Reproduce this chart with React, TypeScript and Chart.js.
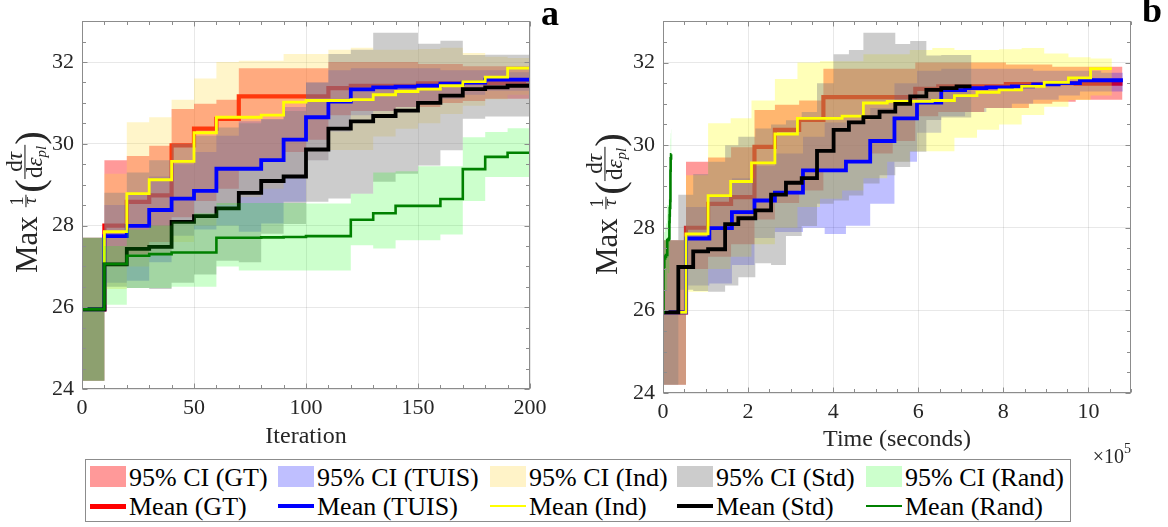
import React, { useEffect, useRef } from "react";
import { Chart, registerables } from "chart.js";

Chart.register(...registerables);

const SERIF = "'Liberation Serif', 'Times New Roman', serif";
const TEXT = "#262626";

// ---------- Panel a: iteration breakpoints (each value holds until the next breakpoint)
const iterations = [0, 10, 20, 30, 40, 50, 60, 70, 80, 90, 100, 110, 120, 130, 140, 150, 160, 170, 180, 190, 200];

// ---------- Panel b: time breakpoints (units of 10^5 seconds)
const timeGT = [0, 0.54, 1.06, 1.6, 2.15, 2.63, 3.2, 3.77, 4.3, 4.85, 5.4, 5.93, 6.47, 7.0, 7.55, 8.06, 8.6, 9.15, 9.7, 10.25, 10.8];
const timeTUIS = [0, 0.54, 1.09, 1.62, 2.15, 2.63, 3.29, 3.8, 4.3, 4.87, 5.44, 5.97, 6.54, 7.1, 7.6, 8.2, 8.7, 9.3, 9.8, 10.3, 10.81];
const timeInd = [0, 0.54, 1.06, 1.59, 2.08, 2.63, 3.16, 3.69, 4.21, 4.71, 5.27, 5.8, 6.33, 6.85, 7.38, 7.9, 8.43, 8.96, 9.53, 10.05, 10.55];
const timeStd = [0, 0.36, 0.71, 1.06, 1.46, 1.77, 2.17, 2.54, 2.89, 3.26, 3.62, 4.01, 4.37, 4.71, 5.09, 5.46, 5.81, 6.19, 6.54, 6.9, 7.25];
const timeRand = [0, 0.012, 0.03, 0.05, 0.07, 0.09, 0.1, 0.11, 0.12, 0.13, 0.14, 0.145, 0.15, 0.155, 0.16, 0.165, 0.17, 0.175, 0.18, 0.19, 0.2];

// ---------- Mean and 95% CI (one value per step interval)
const meanGT = [25.95, 28.0, 28.58, 28.74, 29.96, 30.37, 30.61, 31.16, 31.16, 31.16, 31.16, 31.36, 31.42, 31.42, 31.42, 31.48, 31.48, 31.5, 31.49, 31.49];
const loGT = [24.2, 27.0, 27.3, 27.6, 28.2, 28.6, 28.9, 29.4, 29.6, 29.8, 30.1, 30.7, 30.8, 30.8, 30.9, 30.9, 31.0, 31.05, 31.1, 31.1];
const hiGT = [27.7, 29.6, 29.7, 29.95, 30.85, 30.98, 31.08, 31.85, 31.85, 31.85, 31.85, 32.0, 32.0, 32.0, 32.0, 31.95, 31.95, 31.9, 31.9, 31.9];

const meanTUIS = [25.95, 27.74, 27.99, 28.38, 28.66, 28.85, 29.39, 29.39, 29.6, 30.1, 30.65, 31.03, 31.33, 31.38, 31.4, 31.42, 31.47, 31.5, 31.57, 31.57];
const loTUIS = [24.2, 26.6, 26.65, 27.1, 27.75, 27.9, 28.0, 27.85, 28.05, 28.58, 29.6, 30.3, 30.7, 30.8, 30.9, 31.0, 31.1, 31.2, 31.3, 31.3];
const hiTUIS = [27.7, 28.5, 28.8, 29.2, 29.5, 29.8, 30.2, 30.55, 30.6, 30.9, 31.5, 31.8, 31.85, 31.85, 31.85, 31.85, 31.8, 31.8, 31.8, 31.75];

const meanInd = [25.95, 27.85, 28.78, 29.12, 29.57, 30.27, 30.65, 30.65, 30.7, 31.02, 31.06, 31.06, 31.08, 31.2, 31.28, 31.34, 31.42, 31.52, 31.63, 31.85];
const loInd = [24.2, 26.45, 27.0, 27.3, 27.6, 28.0, 28.5, 28.7, 28.9, 29.2, 29.6, 29.85, 29.85, 30.18, 30.37, 30.5, 30.73, 30.93, 31.09, 31.2];
const hiInd = [27.7, 29.27, 30.53, 30.65, 31.08, 31.6, 32.0, 32.03, 32.03, 32.2, 32.2, 32.3, 32.35, 32.3, 32.3, 32.32, 32.35, 32.22, 32.13, 32.1];

const meanStd = [25.95, 27.05, 27.43, 27.48, 28.09, 28.23, 28.42, 28.8, 29.09, 29.2, 29.86, 30.37, 30.55, 30.68, 30.81, 31.0, 31.18, 31.34, 31.38, 31.42];
const loStd = [24.2, 26.5, 26.47, 26.45, 26.6, 26.8, 27.14, 27.1, 27.8, 28.04, 28.58, 28.66, 28.78, 29.07, 29.27, 29.47, 29.84, 30.61, 30.67, 30.67];
const hiStd = [27.7, 28.8, 29.3, 29.6, 30.0, 30.2, 30.4, 30.5, 30.6, 30.8, 31.5, 32.2, 32.3, 32.72, 32.72, 32.45, 32.52, 32.17, 32.18, 32.18];

const meanRand = [25.95, 27.06, 27.26, 27.3, 27.34, 27.34, 27.7, 27.7, 27.71, 27.72, 27.74, 27.74, 28.14, 28.3, 28.48, 28.48, 28.65, 29.38, 29.68, 29.78];
const loRand = [24.2, 26.06, 26.47, 26.47, 26.5, 26.5, 27.0, 26.9, 26.9, 26.9, 26.9, 26.9, 27.52, 27.44, 27.64, 27.64, 27.78, 28.6, 29.19, 29.19];
const hiRand = [27.7, 27.5, 27.9, 28.0, 28.1, 28.3, 28.55, 28.55, 28.55, 28.55, 28.54, 28.54, 28.78, 29.3, 29.33, 29.45, 29.45, 30.16, 30.29, 30.38];

// ---------- Axis ticks / labels
const xTicksA = [0, 50, 100, 150, 200];
const xTicksB = [0, 2, 4, 6, 8, 10];
const yTicks = [24, 26, 28, 30, 32];

const bandLabels = ["95% CI (GT)", "95% CI (TUIS)", "95% CI (Ind)", "95% CI (Std)", "95% CI (Rand)"];
const meanLabels = ["Mean (GT)", "Mean (TUIS)", "Mean (Ind)", "Mean (Std)", "Mean (Rand)"];

type Method = {
  line: string;
  width: number;
  bandA: string;
  bandB: string;
  swatch: string;
  legendWidth: number;
  bandOrder: number;
  lineOrder: number;
  mean: number[];
  lo: number[];
  hi: number[];
  time: number[];
};

// draw order: higher "order" is painted first (underneath)
const methods: Method[] = [
  { line: "#ff0000", width: 4.2, bandA: "rgba(255,0,0,0.4)", bandB: "rgba(255,0,0,0.4)", swatch: "#ff9999", legendWidth: 5, bandOrder: 100, lineOrder: 95, mean: meanGT, lo: loGT, hi: hiGT, time: timeGT },
  { line: "#0000ff", width: 3.8, bandA: "rgba(0,0,255,0.25)", bandB: "rgba(0,0,255,0.25)", swatch: "#bfbfff", legendWidth: 4.5, bandOrder: 90, lineOrder: 75, mean: meanTUIS, lo: loTUIS, hi: hiTUIS, time: timeTUIS },
  { line: "#ffff00", width: 2.8, bandA: "rgba(255,215,50,0.26)", bandB: "rgba(255,255,0,0.28)", swatch: "#fff3c8", legendWidth: 2.8, bandOrder: 85, lineOrder: 70, mean: meanInd, lo: loInd, hi: hiInd, time: timeInd },
  { line: "#000000", width: 3.8, bandA: "rgba(128,128,128,0.4)", bandB: "rgba(128,128,128,0.4)", swatch: "#cccccc", legendWidth: 4.5, bandOrder: 80, lineOrder: 65, mean: meanStd, lo: loStd, hi: hiStd, time: timeStd },
  { line: "#008000", width: 2.6, bandA: "rgba(0,255,0,0.2)", bandB: "rgba(0,255,0,0.2)", swatch: "#ccffcc", legendWidth: 2.4, bandOrder: 60, lineOrder: 55, mean: meanRand, lo: loRand, hi: hiRand, time: timeRand },
];

function buildDatasets(panel: "a" | "b") {
  const ds: any[] = [];
  methods.forEach((m) => {
    const xs = panel === "a" ? iterations : m.time;
    const pts = (vals: number[]) => xs.map((x, i) => ({ x, y: vals[Math.min(i, vals.length - 1)] }));
    const base = ds.length;
    ds.push({ data: pts(m.lo), borderWidth: 0, pointRadius: 0, stepped: true, fill: false, order: m.bandOrder + 1 });
    ds.push({
      data: pts(m.hi),
      borderWidth: 0,
      pointRadius: 0,
      stepped: true,
      fill: { target: base },
      backgroundColor: panel === "a" ? m.bandA : m.bandB,
      order: m.bandOrder,
    });
    ds.push({
      data: pts(m.mean),
      borderColor: m.line,
      borderWidth: m.width,
      pointRadius: 0,
      stepped: true,
      fill: false,
      borderJoinStyle: "miter",
      borderCapStyle: "butt",
      order: m.lineOrder,
    });
  });
  return ds;
}

function drawYTitle(ctx: CanvasRenderingContext2D, bx: number, cy: number) {
  const main = `31px ${SERIF}`;
  const fA = `19px ${SERIF}`;
  const fAi = `italic 19px ${SERIF}`;
  const fB = `23px ${SERIF}`;
  const fBi = `italic 23px ${SERIF}`;
  const sub = `italic 15px ${SERIF}`;
  const paren = `41px ${SERIF}`;
  ctx.save();
  ctx.translate(bx, cy);
  ctx.rotate(-Math.PI / 2);
  ctx.fillStyle = TEXT;
  ctx.textBaseline = "alphabetic";
  ctx.textAlign = "left";
  ctx.font = main;
  const wMax = ctx.measureText("Max").width;
  ctx.font = fA;
  const w1 = ctx.measureText("1").width;
  ctx.font = fAi;
  const wT = ctx.measureText("τ").width;
  const wF1 = Math.max(w1, wT) + 3;
  ctx.font = paren;
  const wP = ctx.measureText("(").width;
  ctx.font = fB;
  const wd = ctx.measureText("d").width;
  ctx.font = fBi;
  const wtau = ctx.measureText("τ").width;
  const weps = ctx.measureText("ε").width;
  ctx.font = sub;
  const wpl = ctx.measureText("pl").width;
  const num2 = wd + wtau;
  const den2 = wd + weps + wpl;
  const wF2 = Math.max(num2, den2) + 2;
  const gap = 9;
  const total = wMax + gap + wF1 + 2 + wP + wF2 + wP;
  let x = -total / 2;
  ctx.font = main;
  ctx.fillText("Max", x, 0);
  x += wMax + gap;
  // fraction 1/τ
  const bar1 = -11;
  ctx.font = fA;
  ctx.fillText("1", x + (wF1 - w1) / 2, bar1 - 3);
  ctx.font = fAi;
  ctx.fillText("τ", x + (wF1 - wT) / 2, bar1 + 10);
  ctx.fillRect(x, bar1 - 0.6, wF1, 1.1);
  x += wF1 + 2;
  ctx.font = paren;
  ctx.fillText("(", x, 6);
  x += wP;
  // fraction dτ / dε_pl
  const bar2 = -12;
  const nx = x + (wF2 - num2) / 2;
  ctx.font = fB;
  ctx.fillText("d", nx, bar2 - 3);
  ctx.font = fBi;
  ctx.fillText("τ", nx + wd, bar2 - 3);
  const dx = x + (wF2 - den2) / 2;
  ctx.font = fB;
  ctx.fillText("d", dx, bar2 + 17);
  ctx.font = fBi;
  ctx.fillText("ε", dx + wd, bar2 + 17);
  ctx.font = sub;
  ctx.fillText("pl", dx + wd + weps, bar2 + 21);
  ctx.fillRect(x, bar2 - 0.6, wF2, 1.1);
  x += wF2;
  ctx.font = paren;
  ctx.fillText(")", x, 6);
  ctx.restore();
}

const framePlugin = {
  id: "frame",
  afterDraw(chart: any, _args: any, opts: any) {
    const { ctx, chartArea } = chart;
    const xs = chart.scales.x;
    const ys = chart.scales.y;
    const L = Math.round(chartArea.left) + 0.5;
    const R = Math.round(chartArea.right) - 0.5;
    const T = Math.round(chartArea.top) + 0.5;
    const B = Math.round(chartArea.bottom) - 0.5;
    ctx.save();
    ctx.strokeStyle = "#8c8c8c";
    ctx.lineWidth = 1;
    ctx.beginPath();
    // minor / major ticks, inward on all four sides
    for (let v = xs.min; v <= xs.max + 1e-9; v += opts.xMinor) {
      const px = Math.round(xs.getPixelForValue(v)) + 0.5;
      const major = Math.abs(v / opts.xMajor - Math.round(v / opts.xMajor)) < 1e-6;
      const len = major ? 5 : 3.5;
      ctx.moveTo(px, B);
      ctx.lineTo(px, B - len);
      ctx.moveTo(px, T);
      ctx.lineTo(px, T + len);
    }
    for (let v = ys.min; v <= ys.max + 1e-9; v += 0.5) {
      const py = Math.round(ys.getPixelForValue(v)) + 0.5;
      const major = Math.abs((v - 24) / 2 - Math.round((v - 24) / 2)) < 1e-6;
      const len = major ? 5 : 3.5;
      ctx.moveTo(L, py);
      ctx.lineTo(L + len, py);
      ctx.moveTo(R, py);
      ctx.lineTo(R - len, py);
    }
    ctx.stroke();
    ctx.strokeRect(L, T, R - L, B - T);
    ctx.restore();

    ctx.save();
    ctx.fillStyle = TEXT;
    ctx.font = `24px ${SERIF}`;
    ctx.textAlign = "center";
    ctx.textBaseline = "alphabetic";
    ctx.fillText(opts.xTitle, (chartArea.left + chartArea.right) / 2, opts.xTitleY);
    drawYTitle(ctx, opts.yTitleX, (chartArea.top + chartArea.bottom) / 2 - 3);
    ctx.fillStyle = "#000";
    ctx.font = `bold 36px ${SERIF}`;
    ctx.textAlign = "left";
    ctx.fillText(opts.letter, opts.letterX, opts.letterY);
    if (opts.exponent) {
      ctx.fillStyle = TEXT;
      ctx.font = `14px ${SERIF}`;
      const w5 = ctx.measureText("5").width;
      ctx.font = `20px ${SERIF}`;
      const w10 = ctx.measureText("×10").width;
      const xr = chartArea.right;
      ctx.fillText("×10", xr - w5 - w10, 463);
      ctx.font = `14px ${SERIF}`;
      ctx.fillText("5", xr - w5, 453);
    }
    ctx.restore();
  },
};

function makeConfig(panel: "a" | "b") {
  const isA = panel === "a";
  const W = isA ? 580 : 588;
  const H = isA ? 460 : 470;
  const plotLeft = isA ? 82 : 83;
  const plotRight = isA ? 530 : 551;
  const plotTop = isA ? 18 : 15;
  const plotBottom = isA ? 389 : 393;
  const xTicks = isA ? xTicksA : xTicksB;
  return {
    type: "line",
    data: { datasets: buildDatasets(panel) },
    options: {
      animation: false,
      responsive: false,
      devicePixelRatio: 1,
      layout: { padding: { left: 0, right: W - plotRight, top: plotTop, bottom: 0 } },
      scales: {
        x: {
          type: "linear",
          min: 0,
          max: isA ? 200 : 11,
          afterBuildTicks: (s: any) => {
            s.ticks = xTicks.map((v) => ({ value: v }));
          },
          afterFit: (s: any) => {
            s.height = H - plotBottom;
          },
          ticks: { color: TEXT, font: { family: SERIF, size: 22 }, padding: 6, maxRotation: 0, autoSkip: false },
          grid: { color: "rgba(0,0,0,0.09)", drawTicks: false, lineWidth: 1 },
          border: { display: false },
        },
        y: {
          type: "linear",
          min: 24,
          max: 33,
          afterBuildTicks: (s: any) => {
            s.ticks = yTicks.map((v) => ({ value: v }));
          },
          afterFit: (s: any) => {
            s.width = plotLeft;
          },
          ticks: { color: TEXT, font: { family: SERIF, size: 22 }, padding: 8, autoSkip: false },
          grid: { color: "rgba(0,0,0,0.09)", drawTicks: false, lineWidth: 1 },
          border: { display: false },
        },
      },
      plugins: {
        legend: { display: false },
        tooltip: { enabled: false },
        filler: { drawTime: "beforeDatasetDraw", propagate: false },
        frame: isA
          ? { xMinor: 10, xMajor: 50, xTitle: "Iteration", xTitleY: 443, yTitleX: 37, letter: "a", letterX: 541, letterY: 25, exponent: false }
          : { xMinor: 0.5, xMajor: 2, xTitle: "Time (seconds)", xTitleY: 446, yTitleX: 37, letter: "b", letterX: 562, letterY: 22, exponent: true },
      },
    },
    plugins: [framePlugin],
  } as any;
}

// legend column positions (page px)
const legendCols = [90, 278, 490, 677, 866];

function Legend() {
  const left = 85;
  const top = 459;
  return (
    <div
      style={{
        position: "absolute",
        left,
        top,
        width: 986,
        height: 63,
        boxSizing: "border-box",
        border: "1px solid #8c8c8c",
        background: "#fff",
        fontFamily: SERIF,
        fontSize: 26,
        color: "#000",
      }}
    >
      {methods.map((m, i) => {
        const x = legendCols[i] - left - 1;
        return (
          <React.Fragment key={i}>
            <div style={{ position: "absolute", left: x, top: 6, width: 36, height: 21, background: m.swatch }} />
            <div style={{ position: "absolute", left: x + 39, top: 3, lineHeight: "30px", whiteSpace: "nowrap" }}>{bandLabels[i]}</div>
            <div
              style={{
                position: "absolute",
                left: x,
                top: 46 - m.legendWidth / 2,
                width: 36,
                height: m.legendWidth,
                background: m.line,
              }}
            />
            <div style={{ position: "absolute", left: x + 39, top: 32, lineHeight: "30px", whiteSpace: "nowrap" }}>{meanLabels[i]}</div>
          </React.Fragment>
        );
      })}
    </div>
  );
}

export default function App() {
  const refA = useRef<HTMLCanvasElement | null>(null);
  const refB = useRef<HTMLCanvasElement | null>(null);
  useEffect(() => {
    const a = new Chart(refA.current as HTMLCanvasElement, makeConfig("a"));
    const b = new Chart(refB.current as HTMLCanvasElement, makeConfig("b"));
    return () => {
      a.destroy();
      b.destroy();
    };
  }, []);
  return (
    <div style={{ position: "absolute", left: 0, top: 0, width: 1168, height: 527, background: "#fff", overflow: "hidden" }}>
      <canvas ref={refA} width={580} height={460} style={{ position: "absolute", left: 0, top: 0, width: 580, height: 460 }} />
      <canvas ref={refB} width={588} height={470} style={{ position: "absolute", left: 580, top: 0, width: 588, height: 470 }} />
      <Legend />
    </div>
  );
}
